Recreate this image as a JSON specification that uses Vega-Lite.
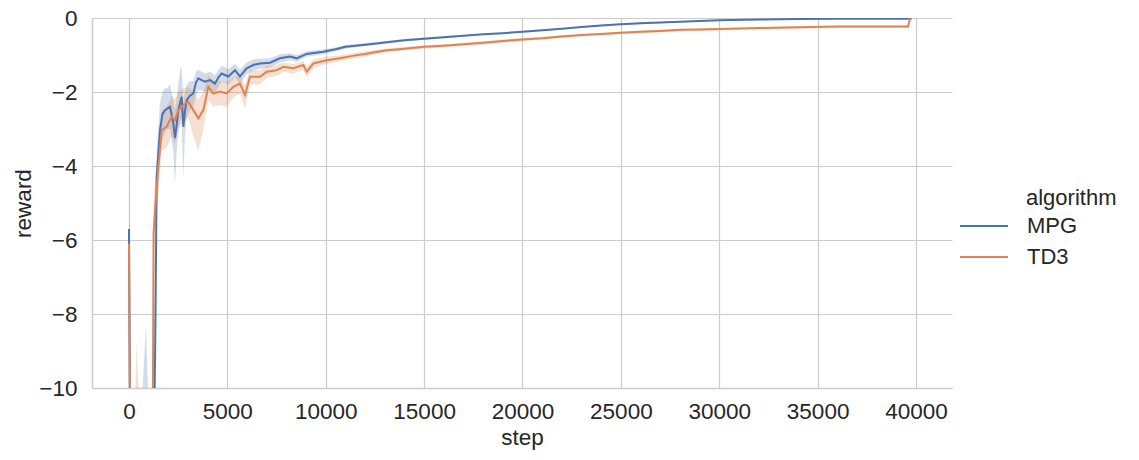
{
  "$schema": "https://vega.github.io/schema/vega-lite/v6.json",
  "autosize": "none",
  "width": 860,
  "height": 370,
  "padding": {"left": 92, "top": 18, "right": 187, "bottom": 72},
  "background": "white",
  "config": {
    "font": "Liberation Sans",
    "view": {"stroke": null},
    "axis": {
      "grid": true, "gridColor": "#cccccc", "gridWidth": 1.2,
      "domainColor": "#cccccc", "domainWidth": 1.5, "ticks": false,
      "labelFont": "Liberation Sans", "labelFontSize": 22.5, "labelColor": "#262626",
      "titleFont": "Liberation Sans", "titleFontSize": 22.5, "titleFontWeight": "normal", "titleColor": "#262626"
    },
    "legend": {
      "labelFont": "Liberation Sans", "labelFontSize": 22, "labelColor": "#262626",
      "titleFont": "Liberation Sans", "titleFontSize": 22, "titleFontWeight": "normal", "titleColor": "#262626"
    }
  },
  "data": {"values": [
    {"s":0,"a":"MPG","r":-5.7,"lo":-6.5,"hi":-4.5},
    {"s":100,"a":"MPG","r":-16,"lo":-18,"hi":-14},
    {"s":400,"a":"MPG","r":-15,"lo":-17,"hi":-13},
    {"s":860,"a":"MPG","r":-14,"lo":-16,"hi":-8.3},
    {"s":1150,"a":"MPG","r":-15,"lo":-17,"hi":-13},
    {"s":1330,"a":"MPG","r":-9,"lo":-11,"hi":-7},
    {"s":1380,"a":"MPG","r":-6.0,"lo":-7.8,"hi":-5},
    {"s":1406,"a":"MPG","r":-4.3,"lo":-5.2,"hi":-3.6},
    {"s":1576,"a":"MPG","r":-3.03,"lo":-3.8,"hi":-2.3},
    {"s":1700,"a":"MPG","r":-2.6,"lo":-3.3,"hi":-2.0},
    {"s":1830,"a":"MPG","r":-2.49,"lo":-3.1,"hi":-1.9},
    {"s":1950,"a":"MPG","r":-2.45,"lo":-3.0,"hi":-1.9},
    {"s":2084,"a":"MPG","r":-2.4,"lo":-3.0,"hi":-1.8},
    {"s":2253,"a":"MPG","r":-2.85,"lo":-3.6,"hi":-2.2},
    {"s":2338,"a":"MPG","r":-3.25,"lo":-4.5,"hi":-2.5},
    {"s":2420,"a":"MPG","r":-2.9,"lo":-3.6,"hi":-2.2},
    {"s":2507,"a":"MPG","r":-2.49,"lo":-3.1,"hi":-1.8},
    {"s":2600,"a":"MPG","r":-2.3,"lo":-2.8,"hi":-1.4},
    {"s":2677,"a":"MPG","r":-2.13,"lo":-2.7,"hi":-1.3},
    {"s":2761,"a":"MPG","r":-2.94,"lo":-4.3,"hi":-2.3},
    {"s":2850,"a":"MPG","r":-2.5,"lo":-3.1,"hi":-2.0},
    {"s":2931,"a":"MPG","r":-2.22,"lo":-2.7,"hi":-1.8},
    {"s":3100,"a":"MPG","r":-2.1,"lo":-2.5,"hi":-1.7},
    {"s":3270,"a":"MPG","r":-2.04,"lo":-2.4,"hi":-1.7},
    {"s":3400,"a":"MPG","r":-1.75,"lo":-2.1,"hi":-1.45},
    {"s":3524,"a":"MPG","r":-1.63,"lo":-1.95,"hi":-1.4},
    {"s":3700,"a":"MPG","r":-1.68,"lo":-1.95,"hi":-1.45},
    {"s":3863,"a":"MPG","r":-1.72,"lo":-2.0,"hi":-1.5},
    {"s":4117,"a":"MPG","r":-1.68,"lo":-1.95,"hi":-1.45},
    {"s":4371,"a":"MPG","r":-1.77,"lo":-2.05,"hi":-1.55},
    {"s":4550,"a":"MPG","r":-1.6,"lo":-1.85,"hi":-1.4},
    {"s":4710,"a":"MPG","r":-1.5,"lo":-1.72,"hi":-1.3},
    {"s":5049,"a":"MPG","r":-1.58,"lo":-1.8,"hi":-1.38},
    {"s":5388,"a":"MPG","r":-1.41,"lo":-1.6,"hi":-1.24},
    {"s":5642,"a":"MPG","r":-1.58,"lo":-1.78,"hi":-1.4},
    {"s":5981,"a":"MPG","r":-1.36,"lo":-1.52,"hi":-1.2},
    {"s":6320,"a":"MPG","r":-1.27,"lo":-1.42,"hi":-1.12},
    {"s":6659,"a":"MPG","r":-1.23,"lo":-1.37,"hi":-1.1},
    {"s":7167,"a":"MPG","r":-1.21,"lo":-1.33,"hi":-1.09},
    {"s":7675,"a":"MPG","r":-1.09,"lo":-1.2,"hi":-0.98},
    {"s":8183,"a":"MPG","r":-1.04,"lo":-1.14,"hi":-0.95},
    {"s":8522,"a":"MPG","r":-1.09,"lo":-1.18,"hi":-1.0},
    {"s":9030,"a":"MPG","r":-0.97,"lo":-1.05,"hi":-0.9},
    {"s":9877,"a":"MPG","r":-0.91,"lo":-0.98,"hi":-0.85},
    {"s":10555,"a":"MPG","r":-0.84,"lo":-0.9,"hi":-0.79},
    {"s":11000,"a":"MPG","r":-0.78,"lo":-0.83,"hi":-0.73},
    {"s":12000,"a":"MPG","r":-0.72,"lo":-0.76,"hi":-0.68},
    {"s":13000,"a":"MPG","r":-0.66,"lo":-0.7,"hi":-0.62},
    {"s":14000,"a":"MPG","r":-0.6,"lo":-0.63,"hi":-0.57},
    {"s":15000,"a":"MPG","r":-0.56,"lo":-0.59,"hi":-0.53},
    {"s":16000,"a":"MPG","r":-0.52,"lo":-0.55,"hi":-0.49},
    {"s":17000,"a":"MPG","r":-0.48,"lo":-0.5,"hi":-0.46},
    {"s":18000,"a":"MPG","r":-0.44,"lo":-0.46,"hi":-0.42},
    {"s":19000,"a":"MPG","r":-0.41,"lo":-0.43,"hi":-0.39},
    {"s":20000,"a":"MPG","r":-0.37,"lo":-0.39,"hi":-0.35},
    {"s":21000,"a":"MPG","r":-0.33,"lo":-0.35,"hi":-0.31},
    {"s":22000,"a":"MPG","r":-0.29,"lo":-0.31,"hi":-0.27},
    {"s":23000,"a":"MPG","r":-0.24,"lo":-0.26,"hi":-0.22},
    {"s":24000,"a":"MPG","r":-0.2,"lo":-0.22,"hi":-0.18},
    {"s":25000,"a":"MPG","r":-0.17,"lo":-0.19,"hi":-0.15},
    {"s":26000,"a":"MPG","r":-0.14,"lo":-0.16,"hi":-0.12},
    {"s":27000,"a":"MPG","r":-0.12,"lo":-0.14,"hi":-0.1},
    {"s":28000,"a":"MPG","r":-0.1,"lo":-0.12,"hi":-0.08},
    {"s":29000,"a":"MPG","r":-0.08,"lo":-0.1,"hi":-0.06},
    {"s":30000,"a":"MPG","r":-0.06,"lo":-0.08,"hi":-0.04},
    {"s":32000,"a":"MPG","r":-0.04,"lo":-0.06,"hi":-0.03},
    {"s":34000,"a":"MPG","r":-0.03,"lo":-0.04,"hi":-0.02},
    {"s":36000,"a":"MPG","r":-0.02,"lo":-0.03,"hi":-0.01},
    {"s":38000,"a":"MPG","r":-0.02,"lo":-0.03,"hi":-0.01},
    {"s":39780,"a":"MPG","r":-0.02,"lo":-0.03,"hi":-0.01},
    {"s":0,"a":"TD3","r":-6.1,"lo":-6.8,"hi":-4.0},
    {"s":100,"a":"TD3","r":-16,"lo":-18,"hi":-14},
    {"s":390,"a":"TD3","r":-15,"lo":-17,"hi":-8.8},
    {"s":800,"a":"TD3","r":-16,"lo":-18,"hi":-14},
    {"s":1180,"a":"TD3","r":-15,"lo":-17,"hi":-13},
    {"s":1250,"a":"TD3","r":-5.8,"lo":-6.5,"hi":-5},
    {"s":1350,"a":"TD3","r":-5.0,"lo":-5.6,"hi":-4.3},
    {"s":1490,"a":"TD3","r":-4.02,"lo":-4.7,"hi":-3.4},
    {"s":1660,"a":"TD3","r":-3.03,"lo":-3.6,"hi":-2.5},
    {"s":1915,"a":"TD3","r":-2.94,"lo":-3.5,"hi":-2.4},
    {"s":2169,"a":"TD3","r":-2.67,"lo":-3.2,"hi":-2.1},
    {"s":2338,"a":"TD3","r":-2.76,"lo":-3.4,"hi":-2.2},
    {"s":2507,"a":"TD3","r":-2.49,"lo":-3.0,"hi":-2.0},
    {"s":2761,"a":"TD3","r":-2.35,"lo":-2.8,"hi":-1.9},
    {"s":3015,"a":"TD3","r":-2.26,"lo":-2.7,"hi":-1.85},
    {"s":3270,"a":"TD3","r":-2.49,"lo":-3.2,"hi":-2.0},
    {"s":3524,"a":"TD3","r":-2.71,"lo":-3.6,"hi":-2.2},
    {"s":3778,"a":"TD3","r":-2.49,"lo":-3.0,"hi":-2.0},
    {"s":4032,"a":"TD3","r":-1.86,"lo":-2.2,"hi":-1.55},
    {"s":4286,"a":"TD3","r":-2.04,"lo":-2.4,"hi":-1.7},
    {"s":4625,"a":"TD3","r":-1.99,"lo":-2.35,"hi":-1.7},
    {"s":4964,"a":"TD3","r":-2.04,"lo":-2.4,"hi":-1.75},
    {"s":5303,"a":"TD3","r":-1.86,"lo":-2.15,"hi":-1.6},
    {"s":5642,"a":"TD3","r":-1.77,"lo":-2.05,"hi":-1.55},
    {"s":5896,"a":"TD3","r":-2.08,"lo":-2.45,"hi":-1.8},
    {"s":6150,"a":"TD3","r":-1.59,"lo":-1.8,"hi":-1.4},
    {"s":6659,"a":"TD3","r":-1.59,"lo":-1.8,"hi":-1.42},
    {"s":6997,"a":"TD3","r":-1.45,"lo":-1.62,"hi":-1.3},
    {"s":7506,"a":"TD3","r":-1.41,"lo":-1.56,"hi":-1.27},
    {"s":7845,"a":"TD3","r":-1.32,"lo":-1.46,"hi":-1.2},
    {"s":8353,"a":"TD3","r":-1.36,"lo":-1.5,"hi":-1.24},
    {"s":8861,"a":"TD3","r":-1.27,"lo":-1.4,"hi":-1.16},
    {"s":9030,"a":"TD3","r":-1.45,"lo":-1.6,"hi":-1.32},
    {"s":9369,"a":"TD3","r":-1.23,"lo":-1.35,"hi":-1.12},
    {"s":10047,"a":"TD3","r":-1.14,"lo":-1.24,"hi":-1.05},
    {"s":10724,"a":"TD3","r":-1.09,"lo":-1.17,"hi":-1.01},
    {"s":11500,"a":"TD3","r":-1.01,"lo":-1.08,"hi":-0.94},
    {"s":12000,"a":"TD3","r":-0.97,"lo":-1.04,"hi":-0.9},
    {"s":13000,"a":"TD3","r":-0.88,"lo":-0.94,"hi":-0.83},
    {"s":14000,"a":"TD3","r":-0.83,"lo":-0.88,"hi":-0.78},
    {"s":15000,"a":"TD3","r":-0.78,"lo":-0.83,"hi":-0.74},
    {"s":16000,"a":"TD3","r":-0.75,"lo":-0.8,"hi":-0.71},
    {"s":17000,"a":"TD3","r":-0.71,"lo":-0.76,"hi":-0.67},
    {"s":18000,"a":"TD3","r":-0.67,"lo":-0.72,"hi":-0.63},
    {"s":19000,"a":"TD3","r":-0.62,"lo":-0.67,"hi":-0.58},
    {"s":20000,"a":"TD3","r":-0.58,"lo":-0.62,"hi":-0.54},
    {"s":21000,"a":"TD3","r":-0.55,"lo":-0.59,"hi":-0.51},
    {"s":22000,"a":"TD3","r":-0.5,"lo":-0.54,"hi":-0.46},
    {"s":23000,"a":"TD3","r":-0.46,"lo":-0.5,"hi":-0.43},
    {"s":24000,"a":"TD3","r":-0.43,"lo":-0.47,"hi":-0.4},
    {"s":25000,"a":"TD3","r":-0.4,"lo":-0.44,"hi":-0.37},
    {"s":26000,"a":"TD3","r":-0.37,"lo":-0.41,"hi":-0.34},
    {"s":27000,"a":"TD3","r":-0.35,"lo":-0.39,"hi":-0.32},
    {"s":28000,"a":"TD3","r":-0.32,"lo":-0.36,"hi":-0.3},
    {"s":29000,"a":"TD3","r":-0.31,"lo":-0.35,"hi":-0.29},
    {"s":30000,"a":"TD3","r":-0.3,"lo":-0.34,"hi":-0.28},
    {"s":32000,"a":"TD3","r":-0.27,"lo":-0.31,"hi":-0.25},
    {"s":34000,"a":"TD3","r":-0.25,"lo":-0.29,"hi":-0.23},
    {"s":36000,"a":"TD3","r":-0.23,"lo":-0.27,"hi":-0.21},
    {"s":38000,"a":"TD3","r":-0.23,"lo":-0.27,"hi":-0.21},
    {"s":39600,"a":"TD3","r":-0.23,"lo":-0.27,"hi":-0.21},
    {"s":39700,"a":"TD3","r":0.0,"lo":-0.02,"hi":0.0}
  ]},
  "encoding": {
    "x": {
      "field": "s", "type": "quantitative", "title": "step",
      "scale": {"domain": [-1880, 41830], "nice": false, "zero": false},
      "axis": {"values": [0,5000,10000,15000,20000,25000,30000,35000,40000], "format": "d", "labelPadding": 12, "titlePadding": 4}
    },
    "color": {
      "field": "a", "type": "nominal", "title": "algorithm",
      "scale": {"domain": ["MPG", "TD3"], "range": ["#4c72b0", "#dd8452"]},
      "legend": {
        "orient": "none", "legendX": 881, "legendY": 170,
        "symbolType": "M-2.4,0H2.4", "symbolSize": 400, "symbolStrokeWidth": 2, "symbolOpacity": 1,
        "labelOffset": 32, "rowPadding": 9, "titlePadding": 5,
        "titleAnchor": "start", "titleAlign": "left",
        "encode": {"title": {"update": {"dx": {"value": 53}}}}
      }
    }
  },
  "layer": [
    {
      "mark": {"type": "area", "opacity": 0.25, "clip": true},
      "encoding": {
        "y": {"field": "lo", "type": "quantitative"},
        "y2": {"field": "hi"}
      }
    },
    {
      "mark": {"type": "line", "strokeWidth": 2, "clip": true},
      "encoding": {
        "y": {
          "field": "r", "type": "quantitative", "title": "reward",
          "scale": {"domain": [-10, 0], "nice": false, "zero": false},
          "axis": {"values": [-10,-8,-6,-4,-2,0], "labelPadding": 15, "titlePadding": 3}
        }
      }
    }
  ]
}
